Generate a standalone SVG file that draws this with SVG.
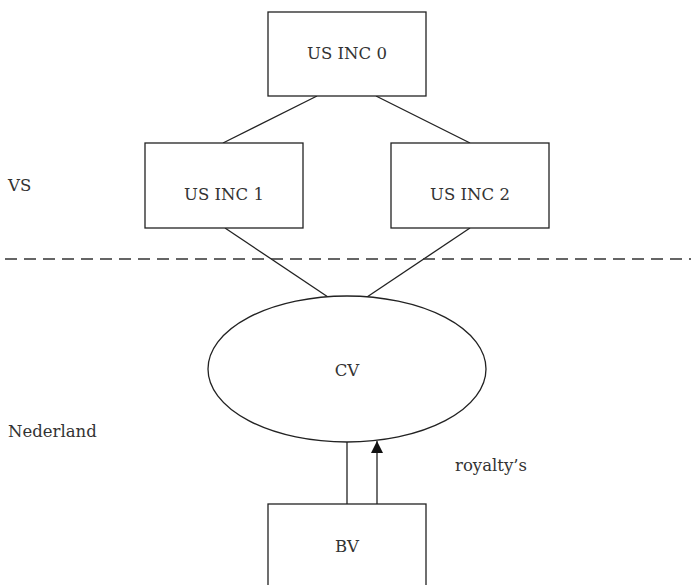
<svg xmlns="http://www.w3.org/2000/svg" width="691" height="585" viewBox="0 0 691 585">
<style>
.box{fill:#fff;stroke:#222;stroke-width:1.3}
.ln{stroke:#222;stroke-width:1.3;fill:none}
.t{font-family:"DejaVu Serif","Liberation Serif",serif;font-size:16.5px;fill:#333}
.c{text-anchor:middle}
</style>
<defs>
<marker id="ah" viewBox="0 0 12 12" refX="12" refY="6" markerWidth="12" markerHeight="12" markerUnits="userSpaceOnUse" orient="auto">
<path d="M0,0 L12,6 L0,12 Z" fill="#111"/>
</marker>
</defs>
<rect width="691" height="585" fill="#fff"/>
<g id="connectors">
<line class="ln" x1="317" y1="96" x2="223" y2="143"/>
<line class="ln" x1="376" y1="96" x2="470" y2="143"/>
<line class="ln" x1="225" y1="228" x2="328" y2="297"/>
<line class="ln" x1="470" y1="228" x2="367" y2="297"/>
<line class="ln" x1="347" y1="442" x2="347" y2="504"/>
<line class="ln" x1="377" y1="504" x2="377" y2="441" marker-end="url(#ah)"/>
</g>
<g id="divider">
<line x1="5" y1="259" x2="691" y2="259" stroke="#333" stroke-width="1.3" stroke-dasharray="12,7"/>
</g>
<g id="usinc0">
<rect class="box" x="268" y="12" width="158" height="84"/>
<text class="t c" x="347" y="59">US INC 0</text>
</g>
<g id="usinc1">
<rect class="box" x="145" y="143" width="158" height="85"/>
<text class="t c" x="224" y="200">US INC 1</text>
</g>
<g id="usinc2">
<rect class="box" x="391" y="143" width="158" height="85"/>
<text class="t c" x="470" y="200">US INC 2</text>
</g>
<g id="cv">
<ellipse class="box" cx="347" cy="369" rx="139" ry="73"/>
<text class="t c" x="347" y="376">CV</text>
</g>
<g id="bv">
<rect class="box" x="268" y="504" width="158" height="100"/>
<text class="t c" x="347" y="552">BV</text>
</g>
<g id="labels">
<text class="t" x="8" y="191">VS</text>
<text class="t" x="8" y="437">Nederland</text>
<text class="t" x="455" y="471">royalty’s</text>
</g>
</svg>
